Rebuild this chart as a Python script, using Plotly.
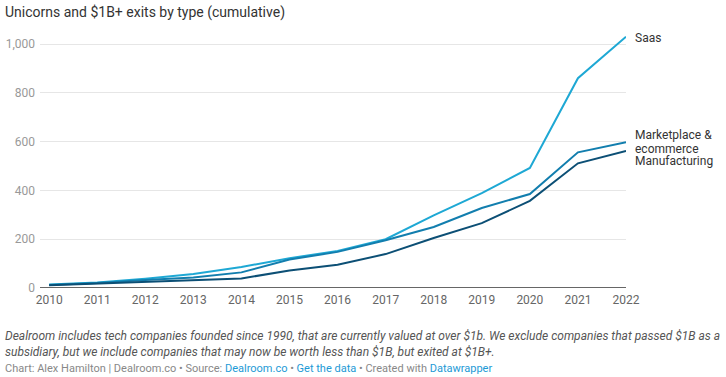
import plotly.graph_objects as go

years = list(range(2010, 2023))
saas = [14, 23, 38, 57, 86, 122, 152, 200, 298, 389, 492, 860, 1030]
marketplace = [12, 20, 33, 43, 64, 117, 148, 196, 250, 328, 385, 556, 597]
manufacturing = [11, 18, 27, 31, 39, 72, 95, 139, 205, 266, 357, 511, 562]
series_names = ["Saas", "Marketplace &", "ecommerce", "Manufacturing"]
colors = ["#1ea8d4", "#127eae", "#0c4f75"]
y_ticks = [0, 200, 400, 600, 800, 1000]
y_tick_labels = ["0", "200", "400", "600", "800", "1,000"]

fig = go.Figure()
for vals, col in zip([saas, marketplace, manufacturing], colors):
    fig.add_trace(go.Scatter(x=years, y=vals, mode="lines",
                             line=dict(color=col, width=2), hoverinfo="skip",
                             showlegend=False))

font = "Roboto, Arial, sans-serif"
fig.update_layout(
    template="none",
    width=726, height=377,
    margin=dict(l=40, r=100, t=34, b=89, pad=0, autoexpand=False),
    paper_bgcolor="white", plot_bgcolor="white",
    font=dict(family=font, size=12, color="#333"),
    xaxis=dict(range=[2009.81, 2022], tickvals=years, ticktext=[str(y) for y in years],
               showgrid=False, zeroline=False, showline=False, automargin=False,
               tickfont=dict(color="#666", size=12), ticks="", ticklabelstandoff=3),
    yaxis=dict(range=[0, 1041], tickvals=y_ticks, ticktext=y_tick_labels,
               showgrid=True, gridcolor="#e6e6e6", gridwidth=1, automargin=False,
               zeroline=False, showline=False, ticks="",
               tickfont=dict(color="#999", size=12), ticklabelstandoff=4),
)
# baseline
fig.add_shape(type="line", xref="paper", yref="y", x0=0, x1=1, y0=0, y1=0,
              line=dict(color="#333", width=1.5))

# end labels
def label(text, yval, yshift):
    fig.add_annotation(x=2022, y=yval, xref="x", yref="y", text=text,
                       xanchor="left", yanchor="middle", xshift=7, yshift=yshift,
                       showarrow=False, font=dict(size=12, color="#333"), align="left")

label(series_names[0], saas[-1], -1)
label(series_names[1], marketplace[-1], 7)
label(series_names[2], marketplace[-1], -7)
label(series_names[3], manufacturing[-1], -10)

# dotted connectors
fig.add_shape(type="line", xref="x", yref="y", xsizemode="pixel", ysizemode="pixel",
              xanchor=2022, yanchor=marketplace[-1], x0=1, y0=2, x1=6, y1=9,
              line=dict(color="#127eae", width=1, dash="dot"))
fig.add_shape(type="line", xref="x", yref="y", xsizemode="pixel", ysizemode="pixel",
              xanchor=2022, yanchor=manufacturing[-1], x0=1, y0=-2, x1=6, y1=-9,
              line=dict(color="#0c4f75", width=1, dash="dot"))

# title
fig.add_annotation(x=0, y=1, xref="paper", yref="paper", xanchor="left", yanchor="top",
                   text="Unicorns and $1B+ exits by type (cumulative)", showarrow=False,
                   xshift=-37, yshift=32, font=dict(size=14, color="#333"))
# notes
fig.add_annotation(x=0, y=0, xref="paper", yref="paper", xanchor="left", yanchor="top",
                   text="<i>Dealroom includes tech companies founded since 1990, that are currently valued at over $1b. We exclude companies that passed $1B as a<br>subsidiary, but we include companies that may now be worth less than $1B, but exited at $1B+.</i>",
                   showarrow=False, align="left", xshift=-37, yshift=-39,
                   font=dict(size=12, color="#555"))
fig.add_annotation(x=0, y=0, xref="paper", yref="paper", xanchor="left", yanchor="top",
                   text="Chart: Alex Hamilton | Dealroom.co • Source: <span style='color:#1d9ad6'>Dealroom.co</span> • <span style='color:#1d9ad6'>Get the data</span> • Created with <span style='color:#1d9ad6'>Datawrapper</span>",
                   showarrow=False, align="left", xshift=-37, yshift=-72,
                   font=dict(size=11, color="#888"))

fig.write_html("out.html", config={"displayModeBar": False},
               post_script="document.body.style.margin='0';document.body.style.overflow='hidden';")
